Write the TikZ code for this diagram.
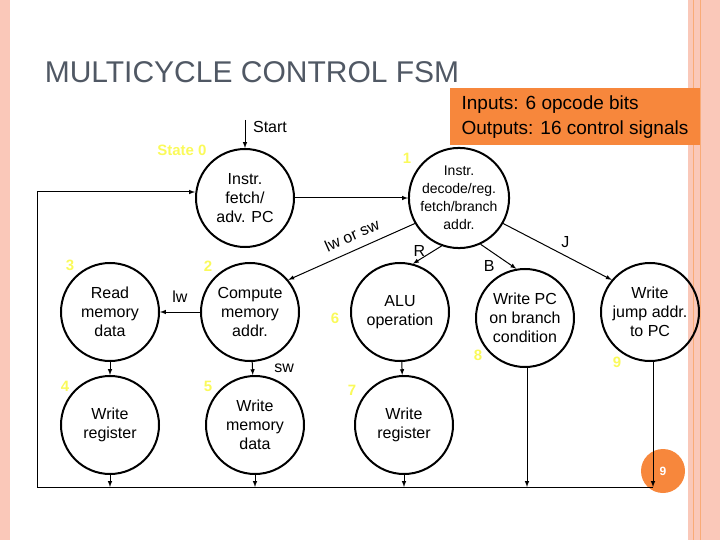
\documentclass[tikz,border=0pt]{standalone}
\usepackage{fontspec}
\setmainfont{Liberation Sans}
\usetikzlibrary{positioning}
\definecolor{slidepink}{RGB}{250,200,185}
\definecolor{boxorange}{RGB}{247,135,60}
\definecolor{numyellow}{RGB}{250,250,90}
\definecolor{titlegray}{RGB}{80,88,100}
\tikzset{
  state/.style={circle,draw,line width=2pt,minimum size=98pt,inner sep=0pt,
    align=center,font=\fontsize{16}{19}\selectfont},
  num/.style={text=numyellow,font=\fontsize{15}{17}\selectfont\bfseries},
  tag/.style={font=\fontsize{16}{18}\selectfont},
  flow/.style={-latex,line width=1pt}
}
\begin{document}
\begin{tikzpicture}[x=1pt,y=-1pt]
\useasboundingbox (0,0) rectangle (720,540);
%
\fill[slidepink] (0,0) rectangle (10,540);
\fill[slidepink] (688,0) rectangle (720,540);
\draw[boxorange!70,line width=0.8pt] (693,0) -- (693,540) (700,0) -- (700,540);
\node[text=titlegray,font=\fontsize{30}{33}\selectfont] at (252,72) {MULTICYCLE CONTROL FSM};
\node[fill=boxorange,minimum width=250pt,minimum height=57pt,align=left,
  font=\fontsize{19}{25}\selectfont] (io) at (575,117)
  {Inputs: 6 opcode bits\\Outputs: 16 control signals};
%
\node[state] (s0) at (245,198) {Instr.\\fetch/\\adv. PC};
\node[state,font=\fontsize{14}{18}\selectfont] (s1) at (459,198) {Instr.\\decode/reg.\\fetch/branch\\addr.};
\node[state] (s2) at (250,312) {Compute\\memory\\addr.};
\node[state] (s3) at (110,312) {Read\\memory\\data};
\node[state] (s4) at (110,425) {Write\\register};
\node[state] (s5) at (255,425) {Write\\memory\\data};
\node[state] (s6) at (400,312) {ALU\\operation};
\node[state] (s7) at (404,425) {Write\\register};
\node[state] (s8) at (525,318) {Write PC\\on branch\\condition};
\node[state] (s9) at (650,312) {Write\\jump addr.\\to PC};
%
\node[num] at (182,150) {State 0};
\node[num] at (407,158) {1};
\node[num] at (208,266) {2};
\node[num] at (70,265) {3};
\node[num] at (65,386) {4};
\node[num] at (208,386) {5};
\node[num] at (335,318) {6};
\node[num] at (352,390) {7};
\node[num] at (478,355) {8};
\node[num] at (617,362) {9};
%
\coordinate (go) at (245,120);
\node[tag] at (270,127) {Start};
\draw[flow] (go) -- (s0);
\draw[flow] (s0) -- (s1);
\draw[flow] (s1.210) -- (s2.40) node[pos=0.45,above=5pt,sloped,tag] {lw or sw};
\draw[flow] (s1.250) -- (s6.75) node[pos=0.3,left=4pt,tag] {R};
\draw[flow] (s1.295) -- (s8.100) node[midway,below left,tag] {B};
\draw[flow] (s1.330) -- (s9.140) node[midway,above right,tag] {J};
\draw[flow] (s2) -- (s3) node[midway,above=6pt,tag] {lw};
\draw[flow] (s2) -- (s5) node[midway,right=18pt,tag] {sw};
\draw[flow] (s3) -- (s4);
\draw[flow] (s6) -- (s7);
%
\node[circle,fill=boxorange,minimum size=44pt,text=white,
  font=\fontsize{12}{14}\selectfont\bfseries] (pg) at (663,471) {9};
\coordinate (b4) at (110,487);
\coordinate (b5) at (255,487);
\coordinate (b7) at (404,487);
\coordinate (b8) at (527,487);
\coordinate (b9) at (653,487);
\coordinate (bl) at (37,487);
\coordinate (tl) at (37,192);
\draw[flow] (s4) -- (b4);
\draw[flow] (s5) -- (b5);
\draw[flow] (s7) -- (b7);
\draw[flow] (s8.south -| b8) -- (b8);
\draw[flow] (s9.south -| b9) -- (b9);
\draw[flow] (b9) -- (bl) -- (tl) -- (tl -| s0.west);
\end{tikzpicture}
\end{document}
